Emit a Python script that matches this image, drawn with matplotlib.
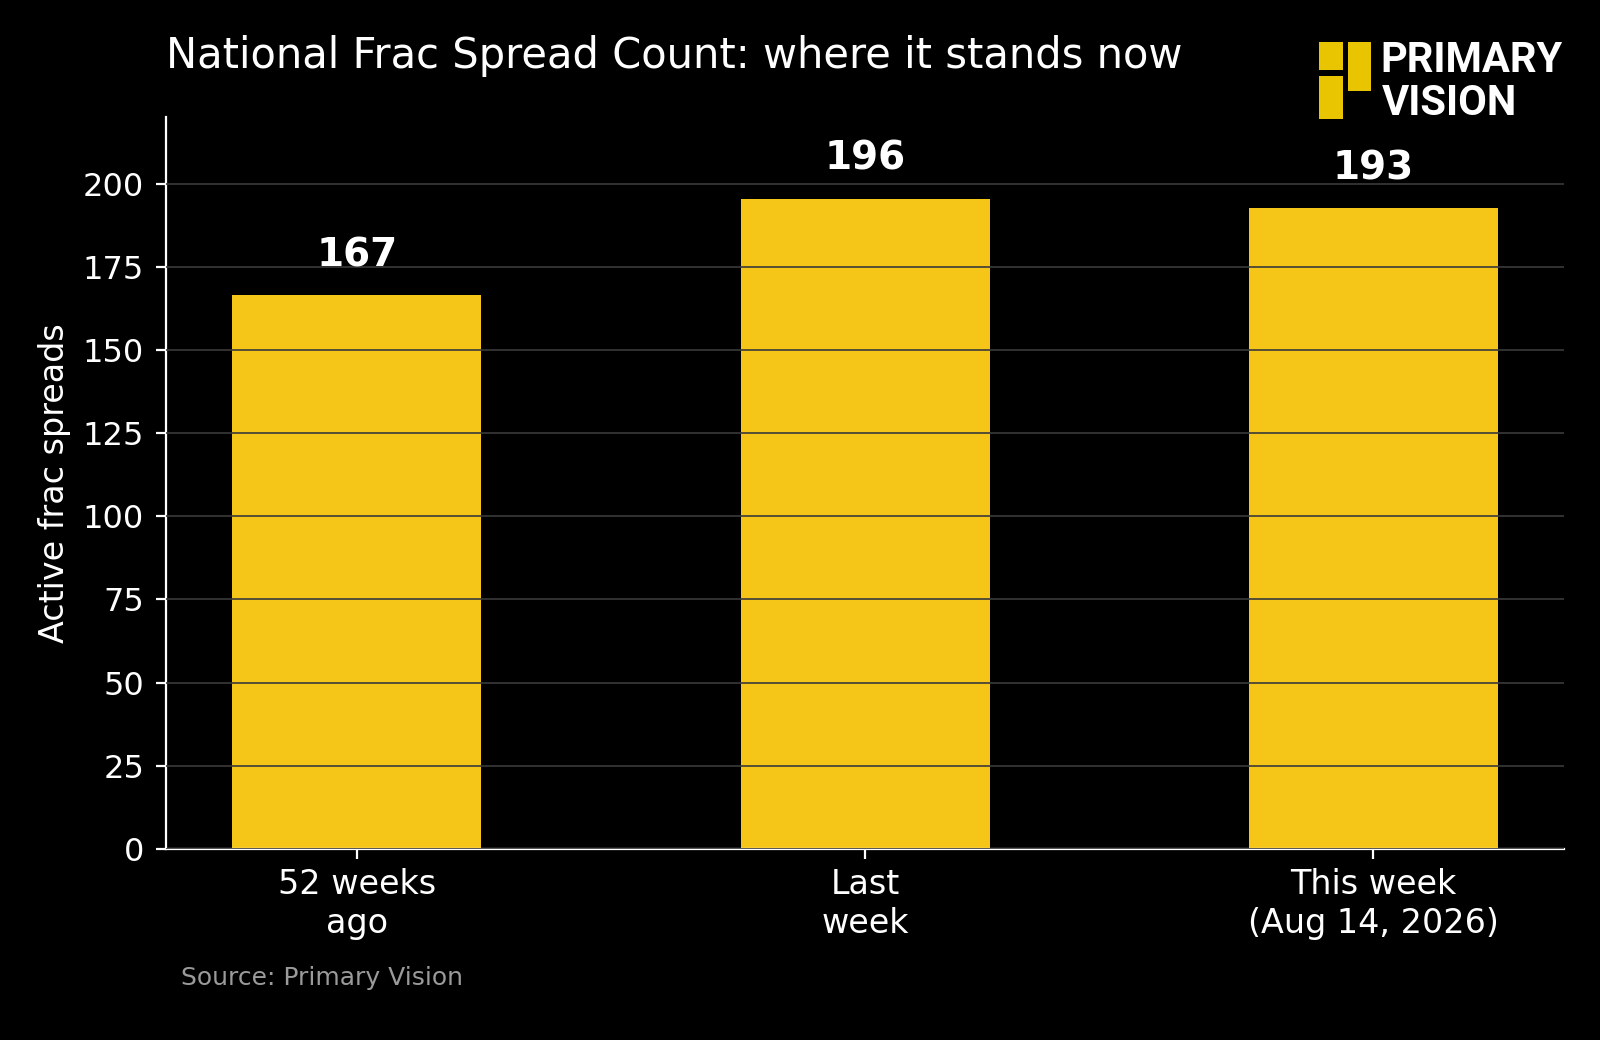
import matplotlib.pyplot as plt
from matplotlib.patches import Rectangle

# data
periods = ["52 weeks\nago", "Last\nweek", "This week\n(Aug 14, 2026)"]
spreads = [166.5, 195.5, 192.5]
y_ticks = [0, 25, 50, 75, 100, 125, 150, 175, 200]

bar_color = "#F5C518"
logo_color = "#E8C500"

plt.rcParams["font.family"] = ["DejaVu Sans"]

fig = plt.figure(figsize=(8, 5.2), dpi=200, facecolor="black")
ax = fig.add_axes([0.104, 0.1837, 0.8735, 0.7038])
ax.set_facecolor("black")

x = range(len(periods))
ax.bar(x, spreads, width=0.49, color=bar_color, zorder=1)

# grid goes over the bars
ax.set_axisbelow(False)
ax.yaxis.grid(True, color="#3a3a3a", linewidth=0.6, zorder=2)
ax.xaxis.grid(False)

for xi, v in zip(x, spreads):
    # labels round half up
    ax.annotate(f"{int(v + 0.5)}", (xi, v), xytext=(0, 7.5), textcoords="offset points",
                ha="center", va="bottom", fontsize=14, fontweight="bold",
                color="white", zorder=3)

ax.set_xlim(-0.375, len(periods) - 1 + 0.375)
ax.set_ylim(0, 220)
ax.set_yticks(y_ticks)
ax.set_xticks(list(x))
ax.set_xticklabels(periods)
ax.set_ylabel("Active frac spreads", color="white", fontsize=12, labelpad=4.2)

for side in ["top", "right"]:
    ax.spines[side].set_visible(False)
for side in ["left", "bottom"]:
    ax.spines[side].set_color("white")
    ax.spines[side].set_linewidth(0.8)
ax.tick_params(colors="white", labelsize=12, width=0.8, length=3.5)
ax.tick_params(axis="y", labelsize=11.5, pad=4.5)

fig.text(0.104, 0.9346, "National Frac Spread Count: where it stands now",
         color="white", fontsize=15, ha="left", va="baseline")
fig.text(0.113, 0.0529, "Source: Primary Vision", color="#9a9a9a",
         fontsize=9, ha="left", va="baseline")

# logo
for (lx, ly, lw, lh) in [(0.8246, 0.9327, 0.015, 0.0272),
                         (0.8246, 0.8853, 0.015, 0.042),
                         (0.8427, 0.9128, 0.0139, 0.0471)]:
    fig.patches.append(Rectangle((lx, ly), lw, lh, transform=fig.transFigure,
                                 facecolor=logo_color, edgecolor="none"))
fig.text(0.8625, 0.9308, "PRIMARY", color="white", fontsize=15,
         family="Roboto", fontweight="semibold", ha="left", va="baseline")
fig.text(0.8635, 0.8894, "VISION", color="white", fontsize=15,
         family="Roboto", fontweight="semibold", ha="left", va="baseline")

fig.savefig("out.png", dpi=200, facecolor="black")
